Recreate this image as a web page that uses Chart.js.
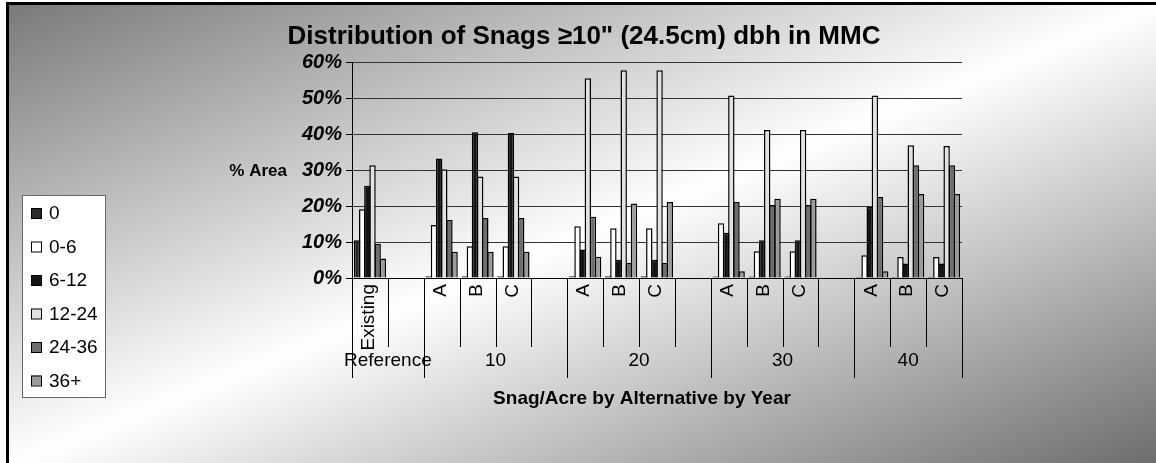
<!DOCTYPE html>
<html>
<head>
<meta charset="utf-8">
<script src="https://cdn.jsdelivr.net/npm/chart.js@4.4.0/dist/chart.umd.min.js"></script>
<style>
    html, body { margin: 0; padding: 0; background: #fff; overflow: hidden; }
    #frame {
        position: absolute; left: 6px; top: 2px; width: 1150px; height: 461px;
        border-top: 3px solid #000; border-left: 3px solid #000;
        background: linear-gradient(to bottom right, #7a7a7a 0%, #ffffff 50%, #6c6c6c 100%);
    }
    #wrap { position: absolute; left: 0; top: 0; width: 1156px; height: 463px; }
</style>
</head>
<body>
<div id="frame"></div>
<div id="wrap"><canvas id="snagChart" width="1156" height="463"></canvas></div>
<script>
// Categories along the x axis (blank slots separate the years)
const categories = ['Existing', '', 'A', 'B', 'C', '', 'A', 'B', 'C', '', 'A', 'B', 'C', '', 'A', 'B', 'C'];
const yearGroups = ['Reference', '10', '20', '30', '40'];
const groupSpans = [2, 4, 4, 4, 3];
const sizeClasses = ['0', '0-6', '6-12', '12-24', '24-36', '36+'];
const yTicks = [0, 10, 20, 30, 40, 50, 60];

// % area per snag size class
const snags0    = [10.5, null, 0.5, 0.5, 0.5, null, 0.5, 0.5, 0.5, null, 0.4, 0.4, 0.4, null, 0.3, 0.3, 0.3];
const snags0to6 = [19.1, null, 14.7, 8.8, 8.8, null, 14.4, 13.8, 13.8, null, 15.2, 7.4, 7.4, null, 6.3, 5.8, 5.8];
const snags6to12 = [25.6, null, 33.2, 40.5, 40.3, null, 7.9, 5.1, 5.1, null, 12.6, 10.5, 10.5, null, 19.7, 4.0, 4.0];
const snags12to24 = [31.3, null, 30.2, 28.2, 28.2, null, 55.5, 57.7, 57.7, null, 50.7, 41.1, 41.1, null, 50.7, 36.9, 36.7];
const snags24to36 = [9.5, null, 16.1, 16.7, 16.7, null, 17.0, 4.2, 4.2, null, 21.1, 20.3, 20.3, null, 22.5, 31.3, 31.3];
const snags36plus = [5.4, null, 7.3, 7.3, 7.3, null, 5.9, 20.7, 21.1, null, 1.9, 22.0, 22.0, null, 1.9, 23.3, 23.3];

const seriesValues = [snags0, snags0to6, snags6to12, snags12to24, snags24to36, snags36plus];
const seriesColors = ['#2a2a2a', '#ffffff', '#141414', '#e2e2e2', '#6e6e6e', '#9c9c9c'];

const FONT = "'Liberation Sans', Arial, sans-serif";

// Title, axis captions, two-level category axis and legend box
const decorPlugin = {
    id: 'snagDecor',
    afterDraw(chart) {
        const ctx = chart.ctx;
        const x = chart.scales.x;
        const area = chart.chartArea;
        const catW = x.width / categories.length;
        ctx.save();
        ctx.fillStyle = '#000';
        ctx.strokeStyle = '#000';

        // chart title
        ctx.font = 'bold 26px ' + FONT;
        ctx.textAlign = 'center';
        ctx.textBaseline = 'middle';
        ctx.fillText('Distribution of Snags \u226510" (24.5cm) dbh in MMC', 584, 37);

        // y caption
        ctx.font = 'bold 17px ' + FONT;
        ctx.textAlign = 'right';
        ctx.fillText('% Area', 287, 171);

        // rotated category labels
        ctx.font = '19px ' + FONT;
        categories.forEach((c, i) => {
            if (!c) return;
            ctx.save();
            ctx.translate(x.getPixelForValue(i) - 1, area.bottom + 6);
            ctx.rotate(-Math.PI / 2);
            ctx.textAlign = 'right';
            ctx.textBaseline = 'middle';
            ctx.fillText(c, 0, 0);
            ctx.restore();
        });

        // divider lines: short inside a year, long between years
        const groupEdges = [0];
        groupSpans.forEach(s => groupEdges.push(groupEdges[groupEdges.length - 1] + s));
        ctx.lineWidth = 1;
        for (let i = 0; i <= categories.length; i++) {
            const px = Math.round(x.left + i * catW) + 0.5;
            const long = groupEdges.includes(i);
            ctx.beginPath();
            ctx.moveTo(px, area.bottom);
            ctx.lineTo(px, long ? 378 : 347);
            ctx.stroke();
        }

        // year group labels
        ctx.font = '19px ' + FONT;
        ctx.textAlign = 'center';
        ctx.textBaseline = 'middle';
        yearGroups.forEach((g, k) => {
            const mid = x.left + (groupEdges[k] + groupEdges[k + 1]) / 2 * catW;
            ctx.fillText(g, mid, 361);
        });

        // x caption
        ctx.font = 'bold 19px ' + FONT;
        ctx.fillText('Snag/Acre by Alternative by Year', 642, 399);

        // legend box
        ctx.fillStyle = '#fff';
        ctx.fillRect(22, 195, 83, 202);
        ctx.strokeStyle = '#666';
        ctx.strokeRect(22.5, 195.5, 83, 202);
        ctx.font = '19px ' + FONT;
        ctx.textAlign = 'left';
        chart.data.datasets.forEach((ds, i) => {
            const cy = 213 + i * 33.5;
            ctx.fillStyle = ds.backgroundColor;
            ctx.fillRect(31, cy - 5, 10, 10);
            ctx.strokeStyle = '#000';
            ctx.strokeRect(31.5, cy - 4.5, 10, 10);
            ctx.fillStyle = '#000';
            ctx.fillText(ds.label, 49, cy + 1);
        });
        ctx.restore();
    }
};

new Chart(document.getElementById('snagChart').getContext('2d'), {
    type: 'bar',
    data: {
        labels: categories,
        datasets: sizeClasses.map((name, i) => ({
            label: name,
            data: seriesValues[i],
            backgroundColor: seriesColors[i],
            borderColor: '#000',
            borderWidth: 1.5,
            borderSkipped: 'bottom',
            categoryPercentage: 0.86,
            barPercentage: 1.25
        }))
    },
    options: {
        responsive: false,
        animation: false,
        layout: {
            padding: { left: 290, right: 194, top: 62, bottom: 185 }
        },
        plugins: {
            legend: { display: false },
            title: { display: false },
            tooltip: { enabled: false }
        },
        scales: {
            x: {
                ticks: { display: false },
                grid: { display: false },
                border: { display: true, color: '#000', width: 1 },
                afterFit: (scale) => { scale.height = 0; }
            },
            y: {
                min: 0,
                max: 60,
                afterBuildTicks: (scale) => { scale.ticks = yTicks.map(v => ({ value: v })); },
                ticks: {
                    padding: 4,
                    color: '#000',
                    font: { family: FONT, size: 20, weight: 'bold', style: 'italic' },
                    callback: (v) => v + '%'
                },
                grid: { color: '#333', lineWidth: 1, tickLength: 6, tickColor: '#000' },
                border: { display: true, color: '#000', width: 1 },
                afterFit: (scale) => { scale.width = 62; }
            }
        }
    },
    plugins: [decorPlugin]
});
</script>
</body>
</html>
